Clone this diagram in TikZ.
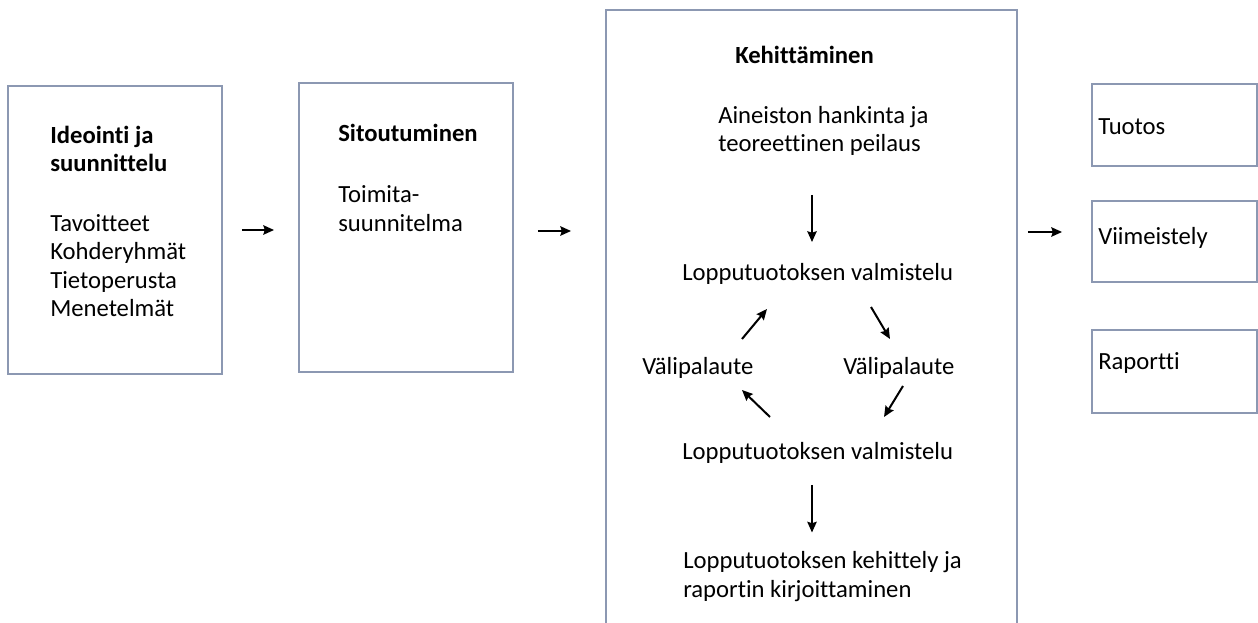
\documentclass[tikz,border=0pt]{standalone}
\usepackage{fontspec}
\setmainfont[Ligatures=NoCommon]{Carlito}
\usetikzlibrary{positioning,arrows.meta,shapes}

\definecolor{boxline}{RGB}{140,152,178}
\tikzset{
  frame/.style={draw=boxline, line width=1.4pt, rectangle, fill=none},
  txt/.style={anchor=west, align=left, inner sep=0pt, font=\fontsize{18.5}{21.4}\selectfont},
  head/.style={txt, font=\fontsize{18.5}{21.4}\selectfont\bfseries},
  arr/.style={-{Stealth[length=8pt,width=7pt,inset=1pt]}, line width=1.5pt, black}
}

\begin{document}
\begin{tikzpicture}[x=0.75pt, y=-0.75pt]
        \useasboundingbox (0,0) rectangle (1258,623);

        % the three phase boxes
        \node[frame, minimum width=214*0.75pt, minimum height=288*0.75pt] (ideo) at (115,230) {};
        \node[frame, minimum width=214*0.75pt, minimum height=289*0.75pt] (sito) at (406,227.5) {};
        \node[frame, minimum width=411*0.75pt, minimum height=640*0.75pt] (kehi) at (811.5,330) {};

        % outputs
        \node[frame, minimum width=165*0.75pt, minimum height=82*0.75pt] (tuot) at (1174.5,125) {};
        \node[frame, minimum width=165*0.75pt, minimum height=81*0.75pt] (viim) at (1174.5,241.5) {};
        \node[frame, minimum width=165*0.75pt, minimum height=83*0.75pt] (rapo) at (1174.5,371.5) {};

        \node[head] (ideoT) at (50,149) {Ideointi ja\\suunnittelu};
        \node[txt] (ideoL) at (50,265.5) {Tavoitteet\\Kohderyhmät\\Tietoperusta\\Menetelmät};

        \node[head] (sitoT) at (338,133) {Sitoutuminen};
        \node[txt] (sitoL) at (338,208.5) {Toimita-\\suunnitelma};

        \node[head] (kehiT) at (735,55) {Kehittäminen};
        \node[txt] (aine) at (718,131) {Aineiston hankinta ja\\teoreettinen peilaus};
        \node[txt] (valm1) at (682,274) {Lopputuotoksen valmistelu};
        \node[txt] (vpl) at (642,368) {Välipalaute};
        \node[txt] (vpr) at (843,368) {Välipalaute};
        \node[txt] (valm2) at (682,453) {Lopputuotoksen valmistelu};
        \node[txt] (kehit) at (683,576.5) {Lopputuotoksen kehittely ja\\raportin kirjoittaminen};

        \node[txt] (tuotT) at (1098,127) {Tuotos};
        \node[txt] (viimT) at (1098,238) {Viimeistely};
        \node[txt] (rapoT) at (1098,363) {Raportti};

        % flow between the boxes
        \draw[arr, shorten <=19*0.75pt, shorten >=24*0.75pt] (ideo.east |- 0,230) -- (sito.west |- 0,230);
        \draw[arr, shorten <=24*0.75pt, shorten >=34*0.75pt] (sito.east |- 0,231) -- (kehi.west |- 0,231);
        \draw[arr, shorten <=10*0.75pt, shorten >=29*0.75pt] (kehi.east |- 0,232) -- (viim.west |- 0,232);

        % inside Kehittaminen
        \draw[arr] ([shift={(94,64)}]aine.west) -- ([shift={(130,-32)}]valm1.west);
        \draw[arr] ([shift={(100,-29)}]vpl.west) -- ([shift={(85,35)}]valm1.west);
        \draw[arr] ([shift={(189,33)}]valm1.west) -- ([shift={(47,-29)}]vpr.west);
        \draw[arr] ([shift={(60,18)}]vpr.west) -- ([shift={(202,-36)}]valm2.west);
        \draw[arr] ([shift={(88,-36)}]valm2.west) -- ([shift={(100,22)}]vpl.west);
        \draw[arr] ([shift={(130,32)}]valm2.west) -- ([shift={(129,-44)}]kehit.west);
    \end{tikzpicture}
\end{document}
